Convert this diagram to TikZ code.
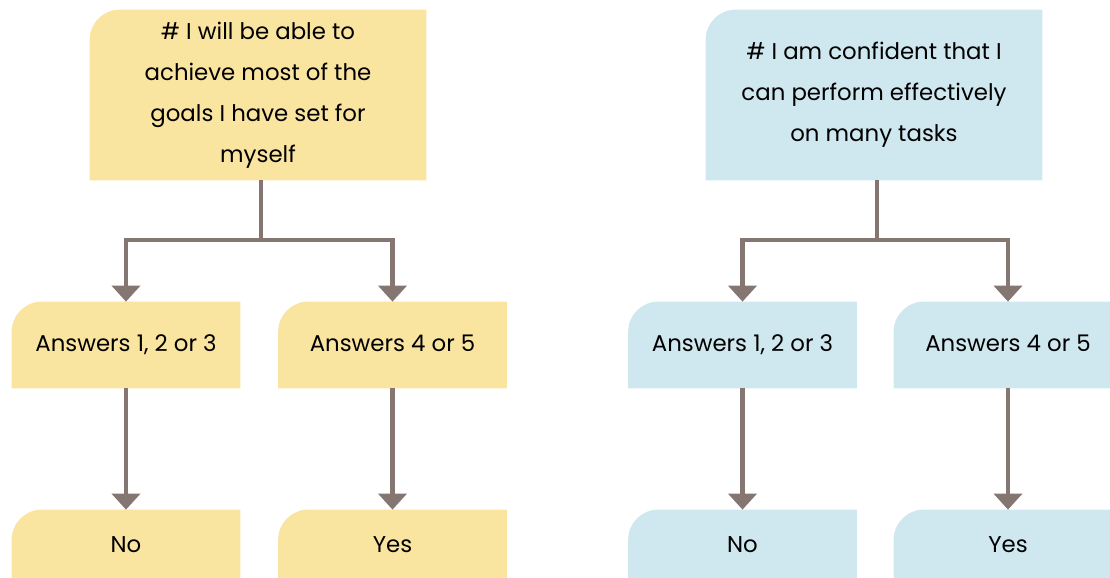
\documentclass[tikz,border=0pt]{standalone}
\usepackage{fontspec}
\setmainfont{Poppins}
\usetikzlibrary{arrows.meta,backgrounds}
\definecolor{ylw}{HTML}{F9E4A0}
\definecolor{blu}{HTML}{CFE7EE}
\definecolor{stem}{HTML}{857672}
\def\cornr{0.6cm}
\tikzset{
  box/.style={minimum width=4.56cm, minimum height=1.72cm, inner sep=0pt, align=center,
    font=\fontsize{13}{23.3}\selectfont},
  onebox/.style={box, text height=1.8ex, text depth=0.5ex},
  qbox/.style={box, minimum width=6.72cm, minimum height=3.4cm},
  endbox/.style={onebox, minimum height=1.44cm},
  link/.style={draw=stem, line width=2.6pt},
  tip/.style={link, -{Triangle[width=0.56cm,length=0.32cm]}}
}
\begin{document}
\begin{tikzpicture}
        \clip[use as bounding box] (0,0) rectangle (22.2,-11.56);
        % questions
        \node[qbox] (qa) at (5.16,-1.9) {\# I will be able to\\achieve most of the\\goals I have set for\\myself};
        \node[qbox] (qb) at (17.48,-1.9) {\# I am confident that I\\can perform effectively\\on many tasks};
        % answers
        \node[onebox] (lo1) at (2.52,-6.9) {Answers 1, 2 or 3};
        \node[onebox] (hi1) at (7.85,-6.9) {Answers 4 or 5};
        \node[onebox] (lo2) at (14.85,-6.9) {Answers 1, 2 or 3};
        \node[onebox] (hi2) at (20.16,-6.9) {Answers 4 or 5};
        % results
        \node[endbox] (no1) at (2.52,-10.92) {No};
        \node[endbox] (yes1) at (7.85,-10.92) {Yes};
        \node[endbox] (no2) at (14.85,-10.92) {No};
        \node[endbox] (yes2) at (20.16,-10.92) {Yes};
        \begin{pgfonlayer}{background}
          \foreach \n/\c in {qa/ylw,lo1/ylw,hi1/ylw,no1/ylw,yes1/ylw,qb/blu,lo2/blu,hi2/blu,no2/blu,yes2/blu}{
            \fill[\c] (\n.south west) -- ([yshift=-\cornr]\n.north west)
              arc[start angle=180, end angle=90, radius=\cornr] -- (\n.north east) -- (\n.south east) -- cycle;
          }
        \end{pgfonlayer}
        \coordinate (sa) at (5.22,-4.8);
        \coordinate (sb) at (17.54,-4.8);
        \draw[link] (sa |- qa.south) -- (sa);
        \draw[link] (sb |- qb.south) -- (sb);
        \foreach \s/\l/\h in {sa/lo1/hi1, sb/lo2/hi2}{
          \draw[tip] (\s) -| (\l.north);
          \draw[tip] (\s) -| (\h.north);
        }
        \foreach \a/\b in {lo1/no1, hi1/yes1, lo2/no2, hi2/yes2}{
          \draw[tip] (\a.south) -- (\b.north);
        }
      \end{tikzpicture}
\end{document}
